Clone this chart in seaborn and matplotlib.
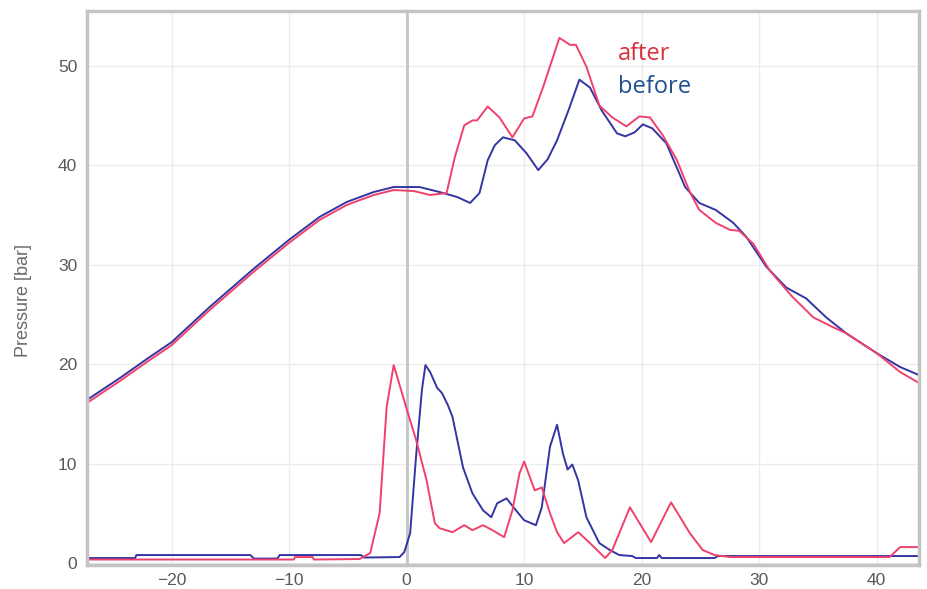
import numpy as np
import pandas as pd
import matplotlib
matplotlib.use("Agg")
import matplotlib.pyplot as plt
import seaborn as sns

# pressure traces
before_main_x = [-27.2, -24.4, -22, -20, -16.8, -13, -10, -7.4, -5.1, -2.8, -1.1, 1.1, 2.8, 4.3,
                 5.4, 6.2, 6.9, 7.5, 8.2, 9.2, 10.2, 11.2, 12, 12.8, 13.8, 14.7, 15.6, 16.6, 17.9,
                 18.6, 19.4, 20.1, 20.9, 22.1, 23.7, 24.9, 26.3, 27.8, 28.9, 30.6, 32.3, 34, 35.7,
                 37.4, 40, 42, 43.6]
before_main_y = [16.4, 18.6, 20.6, 22.2, 25.7, 29.6, 32.5, 34.8, 36.3, 37.3, 37.8, 37.8, 37.3, 36.8,
                 36.2, 37.2, 40.5, 42.0, 42.8, 42.5, 41.2, 39.5, 40.6, 42.5, 45.6, 48.6, 47.8, 45.5,
                 43.2, 42.9, 43.3, 44.1, 43.7, 42.2, 37.8, 36.2, 35.5, 34.2, 32.8, 29.8, 27.7, 26.6,
                 24.7, 23.1, 21.1, 19.7, 18.9]

after_main_x = [-27.2, -24.4, -22, -20, -16.8, -13, -10, -7.4, -5.1, -2.8, -1.1, 0.6, 2, 3.4, 4.1,
                4.9, 5.6, 6, 6.9, 7.9, 9, 10, 10.7, 11.6, 13, 13.9, 14.4, 15.3, 16.4, 17.5, 18.7,
                19.8, 20.7, 21.8, 23, 24.1, 24.9, 26.3, 27.5, 28.3, 29.5, 30.9, 32.8, 34.6, 36.3,
                37.4, 40, 42, 43.6]
after_main_y = [16.1, 18.3, 20.3, 21.9, 25.4, 29.3, 32.2, 34.5, 36.0, 37.0, 37.5, 37.4, 37.0, 37.2,
                40.8, 44.0, 44.5, 44.5, 45.9, 44.8, 42.8, 44.7, 44.9, 47.8, 52.8, 52.1, 52.1, 49.9,
                46.0, 44.8, 43.9, 44.9, 44.8, 43.0, 40.5, 37.3, 35.5, 34.2, 33.5, 33.4, 32.1, 29.4,
                26.8, 24.7, 23.7, 23.1, 21.1, 19.2, 18.1]

before_pulse_x = [-27.2, -23.1, -23, -13.3, -13, -11, -10.8, -3.9, -3.6, -0.6, -0.2, 0.3, 0.8, 1.3,
                  1.6, 2, 2.6, 3, 3.5, 3.9, 4.8, 5.6, 6.5, 7.2, 7.7, 8.5, 9.3, 10, 11, 11.5, 12.2,
                  12.8, 13.3, 13.7, 14.1, 14.6, 15.3, 16.4, 17.3, 18.1, 19.2, 19.5, 21.3, 21.5,
                  21.7, 26.2, 26.5, 43.6]
before_pulse_y = [0.5, 0.5, 0.8, 0.8, 0.45, 0.45, 0.8, 0.8, 0.55, 0.6, 1.1, 3, 10.7, 17.4, 19.9,
                  19.2, 17.6, 17.1, 15.9, 14.7, 9.6, 7, 5.3, 4.6, 6, 6.5, 5.3, 4.3, 3.8, 5.6, 11.7,
                  13.9, 11, 9.4, 9.9, 8.3, 4.6, 2, 1.3, 0.8, 0.7, 0.5, 0.5, 0.8, 0.5, 0.5, 0.7, 0.7]

after_pulse_x = [-27.2, -9.6, -9.5, -8.0, -7.9, -4, -3.1, -2.3, -1.7, -1.1, -0.8, 0.1, 0.8, 1.7,
                 2.4, 2.8, 3.9, 4.9, 5.6, 6.5, 7.3, 8.3, 9, 9.6, 10, 10.9, 11.5, 12.2, 12.8, 13.4,
                 14.6, 15.6, 16.9, 17.5, 19, 20.8, 22.5, 24.1, 25.2, 26.2, 27.5, 41.1, 42, 43.6]
after_pulse_y = [0.35, 0.35, 0.6, 0.6, 0.35, 0.4, 1.0, 5, 15.7, 19.9, 18.7, 15.1, 12.4, 8.3, 4, 3.5,
                 3.1, 3.8, 3.3, 3.8, 3.3, 2.6, 5.3, 9, 10.2, 7.3, 7.6, 5, 3.1, 2, 3.1, 2, 0.5, 1.3,
                 5.6, 2.1, 6.1, 3, 1.3, 0.8, 0.6, 0.6, 1.6, 1.6]

x_ticks = [-20, -10, 0, 10, 20, 30, 40]
y_ticks = [0, 10, 20, 30, 40, 50]

RED = "#f0416c"
BLUE = "#3434a4"

sns.set_style("white")
plt.rcParams["font.family"] = ["Liberation Sans", "DejaVu Sans"]

fig = plt.figure(figsize=(9.27, 5.89), dpi=100)
ax = fig.add_axes([87 / 927, 1 - 565 / 589, (919 - 87) / 927, (565 - 11) / 589])

ax.grid(True, color="#ececec", linewidth=1)
ax.axvline(0, color="#c4c4c4", linewidth=2, zorder=1)

sns.lineplot(x=before_main_x, y=before_main_y, color=BLUE, linewidth=1.4, sort=False, ax=ax)
sns.lineplot(x=after_main_x, y=after_main_y, color=RED, linewidth=1.4, sort=False, ax=ax)
sns.lineplot(x=before_pulse_x, y=before_pulse_y, color=BLUE, linewidth=1.4, sort=False, ax=ax)
sns.lineplot(x=after_pulse_x, y=after_pulse_y, color=RED, linewidth=1.4, sort=False, ax=ax)

ax.set_xlim(-27.2, 43.6)
ax.set_ylim(-0.2, 55.5)
ax.set_xticks(x_ticks)
ax.set_yticks(y_ticks)
ax.tick_params(axis="both", length=0, labelsize=12.5, labelcolor="#595959")
ax.tick_params(axis="y", pad=7)
ax.tick_params(axis="x", pad=6)
ax.set_ylabel("Pressure [bar]", fontsize=13, color="#6a6a6a")
ax.yaxis.set_label_coords(-0.066, 0.478)

for s in ax.spines.values():
    s.set_color("#c4c4c4")
    s.set_linewidth(2.5)

# legend drawn as coloured text labels
ax.text(17.95, 51.2, "after", color="#d8303c", fontsize=17, va="center", ha="left",
        family=["Open Sans", "DejaVu Sans"])
ax.text(17.95, 47.9, "before", color="#1e4f92", fontsize=17, va="center", ha="left",
        family=["Open Sans", "DejaVu Sans"])

fig.savefig("out.png", dpi=100)
